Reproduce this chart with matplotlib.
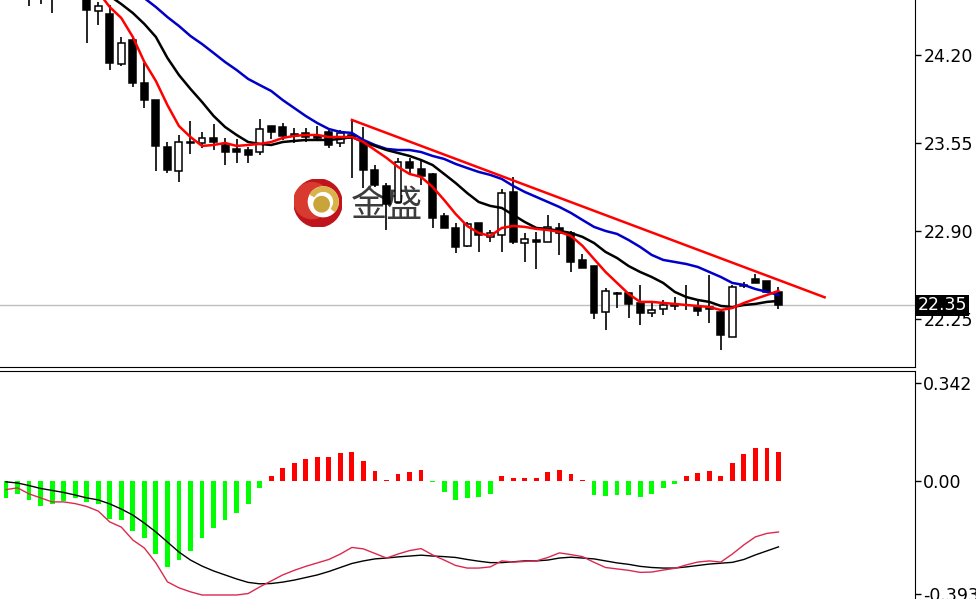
import numpy as np
import matplotlib.pyplot as plt
import matplotlib.transforms as mtransforms
from matplotlib.patches import Rectangle, Circle, Wedge

# candles (bar index 0..67)
opens = [24.85, 24.78, 24.72, 24.68, 24.66, 24.70, 24.76, 24.80, 24.525, 24.50,
         24.13, 24.31, 23.99, 23.87, 23.52, 23.34, 23.55, 23.55, 23.59, 23.535,
         23.506, 23.50, 23.48, 23.675, 23.67, 23.616, 23.62, 23.60, 23.63, 23.55,
         23.609, 23.557, 23.35, 23.23, 23.114, 23.41, 23.358, 23.32, 23.01, 22.92,
         22.79, 22.96, 22.855, 22.87, 23.19, 22.81, 22.833, 22.82, 22.922, 22.885,
         22.686, 22.64, 22.30, 22.435, 22.442, 22.37, 22.294, 22.324, 22.353, 22.353,
         22.34, 22.338, 22.302, 22.117, 22.494, 22.545, 22.53, 22.45]
highs = [24.95, 24.90, 24.80, 24.76, 24.75, 24.82, 24.86, 24.86, 24.59, 24.57,
         24.33, 24.33, 24.14, 23.87, 23.56, 23.61, 23.71, 23.63, 23.69, 23.59,
         23.58, 23.52, 23.73, 23.675, 23.70, 23.66, 23.66, 23.675, 23.646, 23.646,
         23.72, 23.67, 23.39, 23.255, 23.44, 23.44, 23.424, 23.33, 23.03, 22.96,
         22.966, 22.96, 22.907, 23.21, 23.30, 22.885, 22.89, 23.02, 22.96, 22.90,
         22.73, 22.64, 22.48, 22.45, 22.45, 22.50, 22.375, 22.39, 22.412, 22.50,
         22.398, 22.575, 22.31, 22.50, 22.523, 22.58, 22.53, 22.486]
lows = [24.70, 24.66, 24.56, 24.58, 24.51, 24.64, 24.68, 24.29, 24.42, 24.09,
        24.12, 23.96, 23.81, 23.34, 23.33, 23.26, 23.47, 23.51, 23.50, 23.39,
        23.40, 23.40, 23.46, 23.58, 23.57, 23.55, 23.56, 23.57, 23.51, 23.52,
        23.29, 23.22, 23.225, 22.91, 23.107, 23.31, 23.24, 22.92, 22.92, 22.74,
        22.78, 22.745, 22.82, 22.745, 22.80, 22.67, 22.62, 22.82, 22.72, 22.597,
        22.627, 22.25, 22.17, 22.33, 22.258, 22.205, 22.265, 22.28, 22.316, 22.316,
        22.272, 22.22, 22.02, 22.117, 22.48, 22.516, 22.45, 22.32]
closes = [24.78, 24.72, 24.68, 24.65, 24.70, 24.76, 24.80, 24.53, 24.56, 24.14,
          24.29, 23.99, 23.87, 23.53, 23.35, 23.56, 23.56, 23.59, 23.56, 23.48,
          23.48, 23.46, 23.65, 23.63, 23.60, 23.60, 23.594, 23.587, 23.535, 23.62,
          23.587, 23.35, 23.24, 23.10, 23.41, 23.365, 23.306, 22.996, 22.92, 22.78,
          22.95, 22.87, 22.885, 23.18, 22.82, 22.84, 22.82, 22.93, 22.885, 22.67,
          22.627, 22.294, 22.457, 22.442, 22.36, 22.294, 22.316, 22.353, 22.346, 22.35,
          22.31, 22.324, 22.13, 22.487, 22.50, 22.516, 22.45, 22.35]

# moving averages
ma_red = [24.95, 24.93, 24.90, 24.88, 24.85, 24.80, 24.81, 24.72, 24.665, 24.554,
          24.473, 24.333, 24.148, 24.008, 23.83, 23.675, 23.594, 23.528, 23.535, 23.55,
          23.528, 23.535, 23.543, 23.557, 23.587, 23.602, 23.609, 23.609, 23.594, 23.594,
          23.594, 23.557, 23.498, 23.44, 23.373, 23.321, 23.299, 23.225, 23.129, 23.025,
          22.937, 22.885, 22.863, 22.922, 22.937, 22.93, 22.915, 22.907, 22.893, 22.863,
          22.79, 22.693, 22.597, 22.516, 22.435, 22.376, 22.376, 22.368, 22.361, 22.353,
          22.346, 22.338, 22.316, 22.331, 22.368, 22.398, 22.427, 22.457]
ma_black = [25.05, 25.02, 24.99, 24.96, 24.93, 24.89, 24.85, 24.78, 24.71, 24.636,
            24.576, 24.51, 24.429, 24.333, 24.178, 24.052, 23.949, 23.853, 23.75, 23.668,
            23.609, 23.557, 23.543, 23.535, 23.557, 23.565, 23.572, 23.572, 23.572, 23.58,
            23.594, 23.557, 23.528, 23.498, 23.476, 23.454, 23.424, 23.387, 23.321, 23.254,
            23.18, 23.114, 23.085, 23.07, 23.018, 22.966, 22.922, 22.915, 22.90, 22.885,
            22.856, 22.811, 22.745, 22.70, 22.641, 22.597, 22.56, 22.516, 22.45, 22.412,
            22.39, 22.376, 22.346, 22.338, 22.353, 22.361, 22.376, 22.383]
ma_blue = [25.30, 25.26, 25.22, 25.18, 25.14, 25.10, 25.05, 24.95, 24.89, 24.82,
           24.75, 24.69, 24.62, 24.554, 24.48, 24.414, 24.34, 24.281, 24.215, 24.148,
           24.089, 24.023, 23.978, 23.934, 23.867, 23.808, 23.749, 23.697, 23.653, 23.631,
           23.624, 23.572, 23.535, 23.506, 23.498, 23.498, 23.483, 23.454, 23.432, 23.395,
           23.365, 23.336, 23.314, 23.284, 23.232, 23.188, 23.151, 23.114, 23.077, 23.033,
           22.981, 22.93, 22.90, 22.878, 22.833, 22.782, 22.723, 22.686, 22.671, 22.656,
           22.634, 22.597, 22.56, 22.516, 22.501, 22.471, 22.45, 22.427]

trend_x = [30, 71]
trend_y = [23.72, 22.41]
last_price = 22.35
price_ticks = [24.20, 23.55, 22.90, 22.25]

# MACD panel
macd_hist = [-0.058, -0.046, -0.067, -0.087, -0.079, -0.070, -0.058, -0.072, -0.079, -0.134,
             -0.137, -0.175, -0.200, -0.254, -0.300, -0.277, -0.244, -0.200, -0.165, -0.137,
             -0.111, -0.081, -0.025, 0.017, 0.044, 0.062, 0.076, 0.084, 0.084, 0.099,
             0.102, 0.070, 0.035, 0.003, 0.025, 0.032, 0.038, -0.003, -0.037, -0.067,
             -0.058, -0.056, -0.046, 0.017, 0.009, 0.009, 0.009, 0.031, 0.038, 0.023,
             0.002, -0.050, -0.052, -0.050, -0.050, -0.056, -0.044, -0.023, -0.009, 0.017,
             0.027, 0.035, 0.017, 0.062, 0.093, 0.116, 0.116, 0.102]
macd_black = [-0.003, -0.007, -0.016, -0.026, -0.033, -0.040, -0.049, -0.059, -0.066, -0.080,
              -0.098, -0.119, -0.147, -0.178, -0.213, -0.248, -0.276, -0.297, -0.314, -0.328,
              -0.342, -0.354, -0.359, -0.358, -0.353, -0.346, -0.337, -0.328, -0.316, -0.302,
              -0.288, -0.279, -0.272, -0.269, -0.265, -0.262, -0.259, -0.262, -0.264, -0.267,
              -0.274, -0.280, -0.285, -0.285, -0.282, -0.279, -0.279, -0.276, -0.269, -0.266,
              -0.269, -0.272, -0.279, -0.286, -0.291, -0.298, -0.302, -0.304, -0.304, -0.300,
              -0.295, -0.290, -0.287, -0.284, -0.274, -0.258, -0.244, -0.230]
macd_pink = [-0.030, -0.024, -0.045, -0.059, -0.073, -0.073, -0.079, -0.089, -0.105, -0.143,
             -0.161, -0.206, -0.234, -0.286, -0.352, -0.373, -0.387, -0.398, -0.398, -0.398,
             -0.398, -0.393, -0.370, -0.349, -0.328, -0.312, -0.298, -0.286, -0.274, -0.255,
             -0.232, -0.237, -0.253, -0.269, -0.255, -0.243, -0.236, -0.258, -0.276, -0.295,
             -0.304, -0.304, -0.300, -0.279, -0.283, -0.281, -0.279, -0.267, -0.251, -0.257,
             -0.264, -0.284, -0.302, -0.307, -0.312, -0.319, -0.318, -0.311, -0.305, -0.293,
             -0.283, -0.279, -0.283, -0.255, -0.223, -0.195, -0.183, -0.178]
macd_ticks = [0.342, 0.0, -0.393]
macd_tick_labels = ['0.342', '0.00', '-0.393']

W, H = 976, 599
fig = plt.figure(figsize=(W / 100, H / 100), dpi=100)
ax1 = fig.add_axes([0, 1 - 367 / H, 915 / W, 367 / H])
ax2 = fig.add_axes([0, 0, 915 / W, 228 / H])

xlim = (-0.52, 78.84)
n = len(closes)
x = np.arange(n)

# --- price panel ---
ax1.axhline(last_price, color='#c0c0c0', lw=1, zorder=1)
for i in range(n):
    o, h, l, c = opens[i], highs[i], lows[i], closes[i]
    ax1.vlines(i, l, h, color='black', lw=1.2, zorder=3)
    face = 'white' if c > o else 'black'
    body = max(abs(c - o), 0.002)
    ax1.add_patch(Rectangle((i - 0.3, min(o, c)), 0.6, body, facecolor=face,
                            edgecolor='black', lw=1.1, zorder=4))

ax1.plot(x, ma_blue, color='#0000c8', lw=1.8, zorder=5)
ax1.plot(x, ma_black, color='black', lw=1.8, zorder=5)
ax1.plot(x, ma_red, color='#ff0000', lw=1.8, zorder=6)
ax1.plot(trend_x, trend_y, color='#ff0000', lw=1.8, zorder=6)

ax1.set_xlim(*xlim)
ax1.set_ylim(21.895, 24.606)
ax1.set_xticks([])
ax1.yaxis.tick_right()
ax1.set_yticks(price_ticks)
ax1.set_yticklabels([f'{v:.2f}' for v in price_ticks])
ax1.tick_params(axis='y', direction='out', length=4, width=1, labelsize=12.5, pad=2)
for s in ['left', 'top']:
    ax1.spines[s].set_visible(False)

trans = mtransforms.blended_transform_factory(ax1.transAxes, ax1.transData)
ax1.text(1.003, last_price, '22.35', transform=trans, color='white', fontsize=12.5,
         va='center', ha='left', zorder=10, clip_on=False,
         bbox=dict(facecolor='black', edgecolor='none', pad=1.2))

# watermark
ax1.text(351 / 915, 1 - 206 / 367, '金盛', transform=ax1.transAxes, fontsize=26,
         family=['Noto Sans CJK SC', 'DejaVu Sans'], color='#3c3c3c',
         va='center', ha='left', zorder=2)
logo = fig.add_axes([294 / W, 1 - 227 / H, 48 / W, 48 / H])
logo.set_xlim(-1, 1)
logo.set_ylim(-1, 1)
logo.axis('off')
logo.add_patch(Circle((0, 0), 1, color='#c0141c'))
logo.add_patch(Circle((-0.25, 0.1), 0.75, color='#d83a30'))
logo.add_patch(Circle((0.22, 0.05), 0.62, color='white'))
logo.add_patch(Wedge((0.22, 0.05), 0.62, -40, 150, width=0.18, color='#d9b24a'))
logo.add_patch(Circle((0.15, -0.05), 0.32, color='#c9a43a'))

# --- MACD panel ---
colors = ['#ff0000' if v >= 0 else '#00ff00' for v in macd_hist]
ax2.bar(x, macd_hist, width=0.42, color=colors, zorder=2)
ax2.plot(x, macd_black, color='black', lw=1, zorder=3)
ax2.plot(x, macd_pink, color='#dc2850', lw=1, zorder=3)
ax2.set_xlim(*xlim)
ax2.set_ylim(-0.412, 0.384)
ax2.set_xticks([])
ax2.yaxis.tick_right()
ax2.set_yticks(macd_ticks)
ax2.set_yticklabels(macd_tick_labels)
ax2.tick_params(axis='y', direction='out', length=4, width=1, labelsize=12.5, pad=2)
for s in ['left', 'bottom']:
    ax2.spines[s].set_visible(False)

fig.savefig('out.png', dpi=100)
